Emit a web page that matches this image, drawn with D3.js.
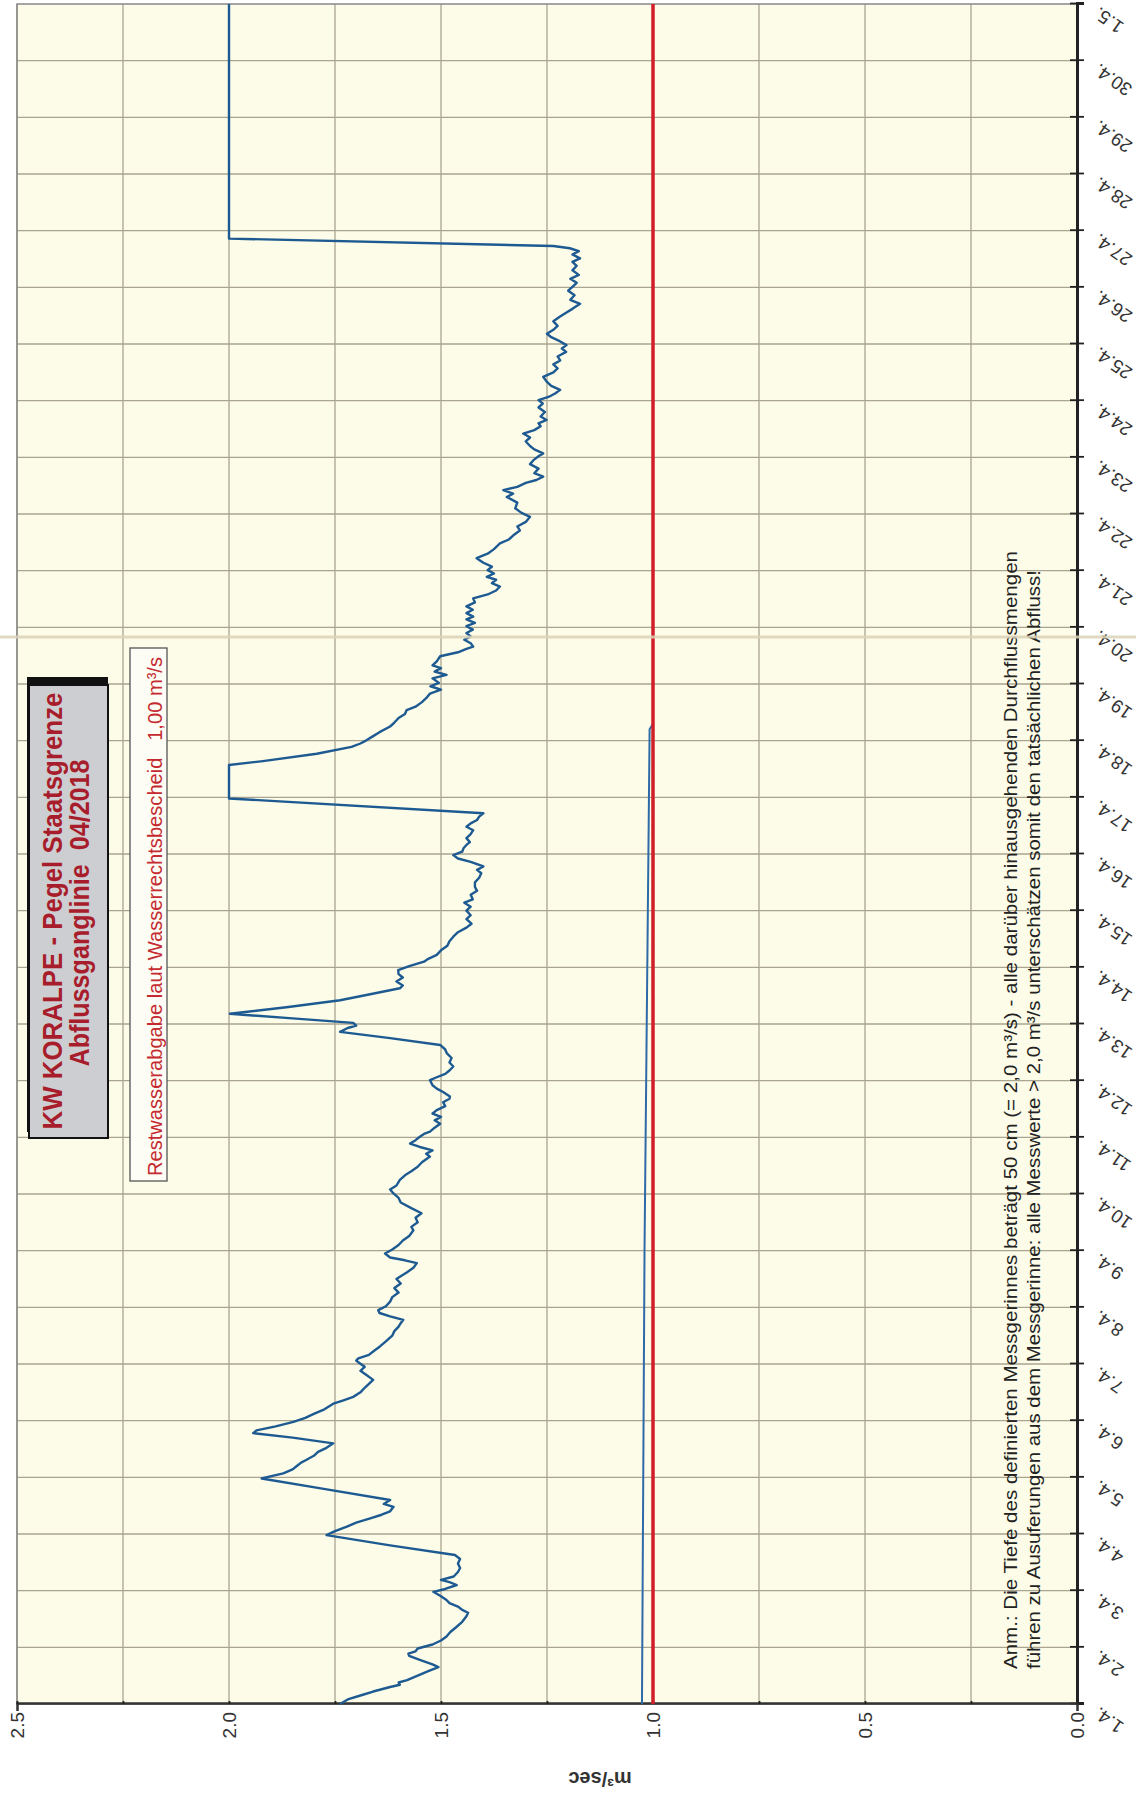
<!DOCTYPE html>
<html><head><meta charset="utf-8">
<script src="https://cdn.jsdelivr.net/npm/d3@7"></script>
<style>body{margin:0;background:#fff}svg{display:block}</style>
</head><body>
<svg id="c" width="1136" height="1803"></svg>
<script>
// ---- data ----
const dayLabels = ["1.4.","2.4.","3.4.","4.4.","5.4.","6.4.","7.4.","8.4.","9.4.","10.4.","11.4.","12.4.","13.4.","14.4.","15.4.","16.4.","17.4.","18.4.","19.4.","20.4.","21.4.","22.4.","23.4.","24.4.","25.4.","26.4.","27.4.","28.4.","29.4.","30.4.","1.5."];
const valueTicks = [0, 0.5, 1.0, 1.5, 2.0, 2.5];
const valueGrid = [0.25,0.5,0.75,1.0,1.25,1.5,1.75,2.0,2.25,2.5];
// flow: days since 1.4. 00:00, m3/s
const flowT = [0.00,0.08,0.15,0.22,0.30,0.34,0.38,0.42,0.50,0.58,0.65,0.70,0.78,0.85,0.89,0.93,0.98,1.05,1.12,1.19,1.27,1.35,1.45,1.55,1.61,1.66,1.72,1.78,1.835,1.90,1.98,2.03,2.10,2.15,2.19,2.25,2.33,2.40,2.48,2.56,2.63,2.80,2.98,3.05,3.13,3.20,3.28,3.34,3.40,3.48,3.53,3.60,3.80,3.98,4.02,4.07,4.14,4.20,4.26,4.31,4.38,4.45,4.52,4.60,4.70,4.78,4.83,4.90,4.98,
5.05,5.12,5.20,5.30,5.36,5.42,5.50,5.58,5.65,5.72,5.80,5.88,5.95,6.01,6.06,6.10,6.16,6.22,6.31,6.40,6.50,6.58,6.66,6.72,6.78,6.84,6.90,6.95,7.02,7.10,7.18,7.26,7.34,7.42,7.50,7.54,7.62,7.70,7.78,7.83,7.88,7.95,8.02,8.10,8.18,8.26,8.36,8.42,8.50,8.58,8.66,8.75,8.85,8.93,9.01,9.08,9.15,9.25,9.33,9.40,9.48,9.56,9.66,9.71,9.77,9.83,9.89,9.95,
10.01,10.06,10.10,10.17,10.24,10.30,10.36,10.42,10.48,10.55,10.62,10.68,10.72,10.80,10.86,10.92,11.01,11.06,11.12,11.18,11.25,11.32,11.40,11.48,11.55,11.63,11.75,11.86,11.93,11.97,12.02,12.10,12.18,12.30,12.42,12.52,12.63,12.68,12.75,12.82,12.88,12.95,13.02,13.10,13.15,13.22,13.30,13.38,13.46,13.54,13.62,13.70,13.77,13.85,13.92,14.00,14.07,14.14,14.20,14.28,14.35,14.42,14.50,14.58,14.66,14.72,14.78,14.86,14.92,14.98,15.04,15.10,15.16,15.21,
15.28,15.35,15.42,15.48,15.54,15.60,15.66,15.72,15.98,16.57,16.64,16.77,16.89,16.95,17.01,17.08,17.15,17.25,17.32,17.40,17.47,17.54,17.60,17.68,17.75,17.83,17.90,17.96,18.02,18.10,18.16,18.22,18.28,18.33,18.40,18.49,18.56,18.62,18.66,18.72,18.78,18.84,18.90,18.96,19.02,19.08,19.14,19.19,19.25,19.31,19.37,19.44,19.51,19.58,19.65,19.72,19.78,19.84,19.89,19.95,20.01,20.07,20.14,20.22,
20.30,20.38,20.48,20.55,20.62,20.71,20.78,20.86,20.95,21.02,21.10,21.20,21.30,21.36,21.42,21.48,21.55,21.60,21.66,21.72,21.80,21.88,21.95,22.02,22.07,22.14,22.20,22.28,22.35,22.42,22.48,22.55,22.60,22.66,22.72,22.80,22.88,22.95,23.01,23.07,23.13,23.19,23.26,23.33,23.42,23.50,23.57,23.64,23.71,23.78,23.86,23.92,23.98,24.05,24.12,24.18,24.25,24.32,24.40,24.48,24.55,24.62,24.71,24.78,24.86,24.94,25.01,25.08,25.15,25.22,25.30,25.38,25.45,25.51,25.58,25.64,25.69,25.73,25.86,30.00];
const flowV = [1.738,1.72,1.69,1.66,1.62,1.597,1.60,1.58,1.555,1.53,1.506,1.52,1.55,1.575,1.577,1.56,1.555,1.52,1.50,1.487,1.478,1.465,1.45,1.44,1.436,1.45,1.46,1.48,1.487,1.50,1.518,1.49,1.463,1.48,1.50,1.47,1.46,1.455,1.46,1.455,1.467,1.62,1.770,1.75,1.722,1.70,1.665,1.640,1.62,1.612,1.635,1.62,1.78,1.923,1.90,1.872,1.85,1.84,1.83,1.817,1.80,1.79,1.77,1.754,1.85,1.943,1.935,1.89,1.848,
1.82,1.80,1.775,1.754,1.73,1.707,1.69,1.68,1.67,1.660,1.675,1.69,1.68,1.691,1.70,1.695,1.67,1.66,1.644,1.63,1.615,1.61,1.60,1.595,1.589,1.62,1.645,1.648,1.63,1.62,1.615,1.60,1.61,1.595,1.605,1.597,1.58,1.565,1.557,1.585,1.62,1.632,1.615,1.60,1.59,1.575,1.565,1.57,1.555,1.56,1.546,1.57,1.595,1.60,1.612,1.62,1.605,1.597,1.585,1.57,1.555,1.545,1.526,1.535,1.52,1.55,1.573,1.56,
1.55,1.54,1.526,1.515,1.502,1.515,1.50,1.52,1.51,1.49,1.495,1.48,1.479,1.495,1.51,1.52,1.526,1.51,1.49,1.48,1.471,1.48,1.475,1.486,1.49,1.502,1.62,1.738,1.72,1.70,1.707,1.85,1.998,1.86,1.738,1.67,1.597,1.59,1.605,1.59,1.60,1.601,1.575,1.54,1.53,1.510,1.50,1.485,1.48,1.471,1.46,1.44,1.428,1.44,1.43,1.44,1.43,1.445,1.425,1.43,1.415,1.420,1.42,1.41,1.405,1.415,1.400,1.43,1.46,1.471,1.45,1.447,1.44,1.432,
1.44,1.43,1.424,1.44,1.43,1.415,1.41,1.400,2.0,2.0,1.92,1.793,1.711,1.69,1.675,1.66,1.645,1.620,1.61,1.60,1.585,1.581,1.56,1.545,1.535,1.526,1.50,1.525,1.505,1.52,1.487,1.515,1.50,1.52,1.51,1.502,1.46,1.44,1.424,1.43,1.445,1.43,1.440,1.425,1.44,1.42,1.44,1.424,1.44,1.425,1.44,1.42,1.424,1.39,1.37,1.361,1.38,1.37,1.392,1.375,1.39,1.38,1.40,1.416,
1.39,1.375,1.361,1.34,1.33,1.314,1.32,1.30,1.290,1.31,1.325,1.32,1.345,1.33,1.353,1.32,1.30,1.275,1.259,1.28,1.27,1.29,1.282,1.27,1.259,1.28,1.29,1.30,1.29,1.306,1.28,1.265,1.27,1.251,1.265,1.255,1.27,1.26,1.27,1.245,1.23,1.219,1.24,1.25,1.259,1.235,1.225,1.235,1.219,1.225,1.205,1.215,1.204,1.22,1.24,1.25,1.235,1.225,1.235,1.22,1.205,1.19,1.172,1.195,1.185,1.20,1.19,1.18,1.195,1.175,1.19,1.18,1.19,1.172,1.19,1.175,1.196,1.235,2.0,2.0];
// residual water release (measured) and required minimum
const restT = [0.0, 8.0, 17.2, 17.3, 30.0];
const restV = [1.026, 1.02, 1.008, 1.0, 1.0];
const limitT = [0.0, 30.0];
const limitV = [1.0, 1.0];
const artifactT = 18.83;

// ---- layout ----
const W = 1700, H = 1060, TX = 17, TY = 1704;
const FONT = "Liberation Sans, Arial, sans-serif";
const svg = d3.select("#c");
const x = d3.scaleLinear().domain([0, 30]).range([0, W]);
const y = d3.scaleLinear().domain([0, 2.5]).range([H, 0]);
const g = svg.append("g").attr("transform", `translate(${TX},${TY}) rotate(-90)`);

g.append("rect").attr("x",0).attr("y",0).attr("width",W).attr("height",H).attr("fill","#fcfce8");

// grid
g.append("g").selectAll("line").data(d3.range(1,30)).join("line")
  .attr("x1",d=>x(d)).attr("x2",d=>x(d)).attr("y1",0).attr("y2",H)
  .attr("stroke","#aaa590").attr("stroke-width",1.3);
g.append("g").selectAll("line").data(valueGrid).join("line")
  .attr("x1",0).attr("x2",W).attr("y1",d=>y(d)).attr("y2",d=>y(d))
  .attr("stroke","#aaa590").attr("stroke-width",1.3);
g.append("rect").attr("x",0).attr("y",0).attr("width",W).attr("height",H)
  .attr("fill","none").attr("stroke","#888").attr("stroke-width",1.5);

// scan artifact line (fold in the scanned sheet)
svg.append("line").attr("x1",0).attr("x2",1136).attr("y1",TY-x(artifactT)).attr("y2",TY-x(artifactT))
  .attr("stroke","#dcd3b8").attr("stroke-width",3).attr("opacity",0.85);

// axes
const xAxis = d3.axisBottom(x).tickValues(d3.range(0,31)).tickSize(7).tickFormat("");
const xa = g.append("g").attr("transform",`translate(0,${H})`).call(xAxis);
xa.selectAll(".tick line").attr("y1",-7).attr("stroke","#222").attr("stroke-width",1.8);
xa.select(".domain").attr("stroke","#222").attr("stroke-width",3);
xa.selectAll(".tick").append("text")
  .attr("transform","translate(-8,19) rotate(-55)")
  .attr("text-anchor","end").attr("dy","0.35em")
  .attr("fill","#333").attr("font-family",FONT).attr("font-size",18.5)
  .text((d,i)=>dayLabels[i]);

const yAxis = d3.axisLeft(y).tickValues(valueGrid.concat([0])).tickSize(7).tickFormat("");
const ya = g.append("g").call(yAxis);
ya.selectAll(".tick line").attr("x2",3).attr("stroke","#222").attr("stroke-width",1.8);
ya.select(".domain").attr("stroke","#333").attr("stroke-width",2.5);
g.append("g").selectAll("text").data(valueTicks).join("text")
  .attr("x",-8).attr("y",d=>y(d)).attr("dy","0.35em").attr("text-anchor","end")
  .attr("fill","#333").attr("font-family",FONT).attr("font-size",19)
  .text(d=>d.toFixed(1));
g.append("text").attr("transform",`translate(-68,${583}) rotate(-90)`)
  .attr("text-anchor","middle").attr("font-family",FONT)
  .attr("font-weight","bold").attr("font-size",20).attr("fill","#333").text("m³/sec");

// series
const line = d3.line().x(d=>x(d[0])).y(d=>y(d[1]));
g.append("path").datum(d3.zip(restT,restV)).attr("d",line)
  .attr("fill","none").attr("stroke","#2f6aa8").attr("stroke-width",2);
g.append("path").datum(d3.zip(limitT,limitV)).attr("d",line)
  .attr("fill","none").attr("stroke","#d11f2a").attr("stroke-width",3.5);
g.append("path").datum(d3.zip(flowT,flowV)).attr("d",line)
  .attr("fill","none").attr("stroke","#1e5a92").attr("stroke-width",2.4).attr("stroke-linejoin","round");

// title box
g.append("rect").attr("x",572).attr("y",10).attr("width",455).attr("height",81).attr("fill","#111");
g.append("rect").attr("x",566).attr("y",12).attr("width",453).attr("height",79)
  .attr("fill","#cdced2").attr("stroke","#111").attr("stroke-width",2);
g.append("text").attr("x",793).attr("y",45).attr("text-anchor","middle")
  .attr("font-family",FONT).attr("font-weight","bold").attr("font-size",28)
  .attr("fill","#a81d2b").attr("textLength",437).attr("lengthAdjust","spacingAndGlyphs")
  .text("KW KORALPE - Pegel Staatsgrenze");
g.append("text").attr("x",791).attr("y",72).attr("text-anchor","middle")
  .attr("font-family",FONT).attr("font-weight","bold").attr("font-size",28)
  .attr("fill","#a81d2b").attr("textLength",307).attr("lengthAdjust","spacingAndGlyphs")
  .attr("xml:space","preserve").text("Abflussganglinie  04/2018");

// red label box
g.append("rect").attr("x",523).attr("y",113).attr("width",533).attr("height",37)
  .attr("fill","#fdfdf5").attr("stroke","#555").attr("stroke-width",1.3);
g.append("text").attr("x",528).attr("y",145)
  .attr("font-family",FONT).attr("font-size",20)
  .attr("fill","#c52a31").attr("textLength",519).attr("lengthAdjust","spacingAndGlyphs")
  .attr("xml:space","preserve").text("Restwasserabgabe laut Wasserrechtsbescheid   1,00 m³/s");

// annotation
g.append("text").attr("x",35).attr("y",1000)
  .attr("font-family",FONT).attr("font-size",19)
  .attr("fill","#222").attr("textLength",1118).attr("lengthAdjust","spacingAndGlyphs")
  .text("Anm.: Die Tiefe des definierten Messgerinnes beträgt 50 cm (= 2,0 m³/s) - alle darüber hinausgehenden Durchflussmengen");
g.append("text").attr("x",35).attr("y",1023)
  .attr("font-family",FONT).attr("font-size",19)
  .attr("fill","#222").attr("textLength",1099).attr("lengthAdjust","spacingAndGlyphs")
  .text("führen zu Ausuferungen aus dem Messgerinne: alle Messwerte > 2,0 m³/s unterschätzen somit den tatsächlichen Abfluss!");
</script>
</body></html>
